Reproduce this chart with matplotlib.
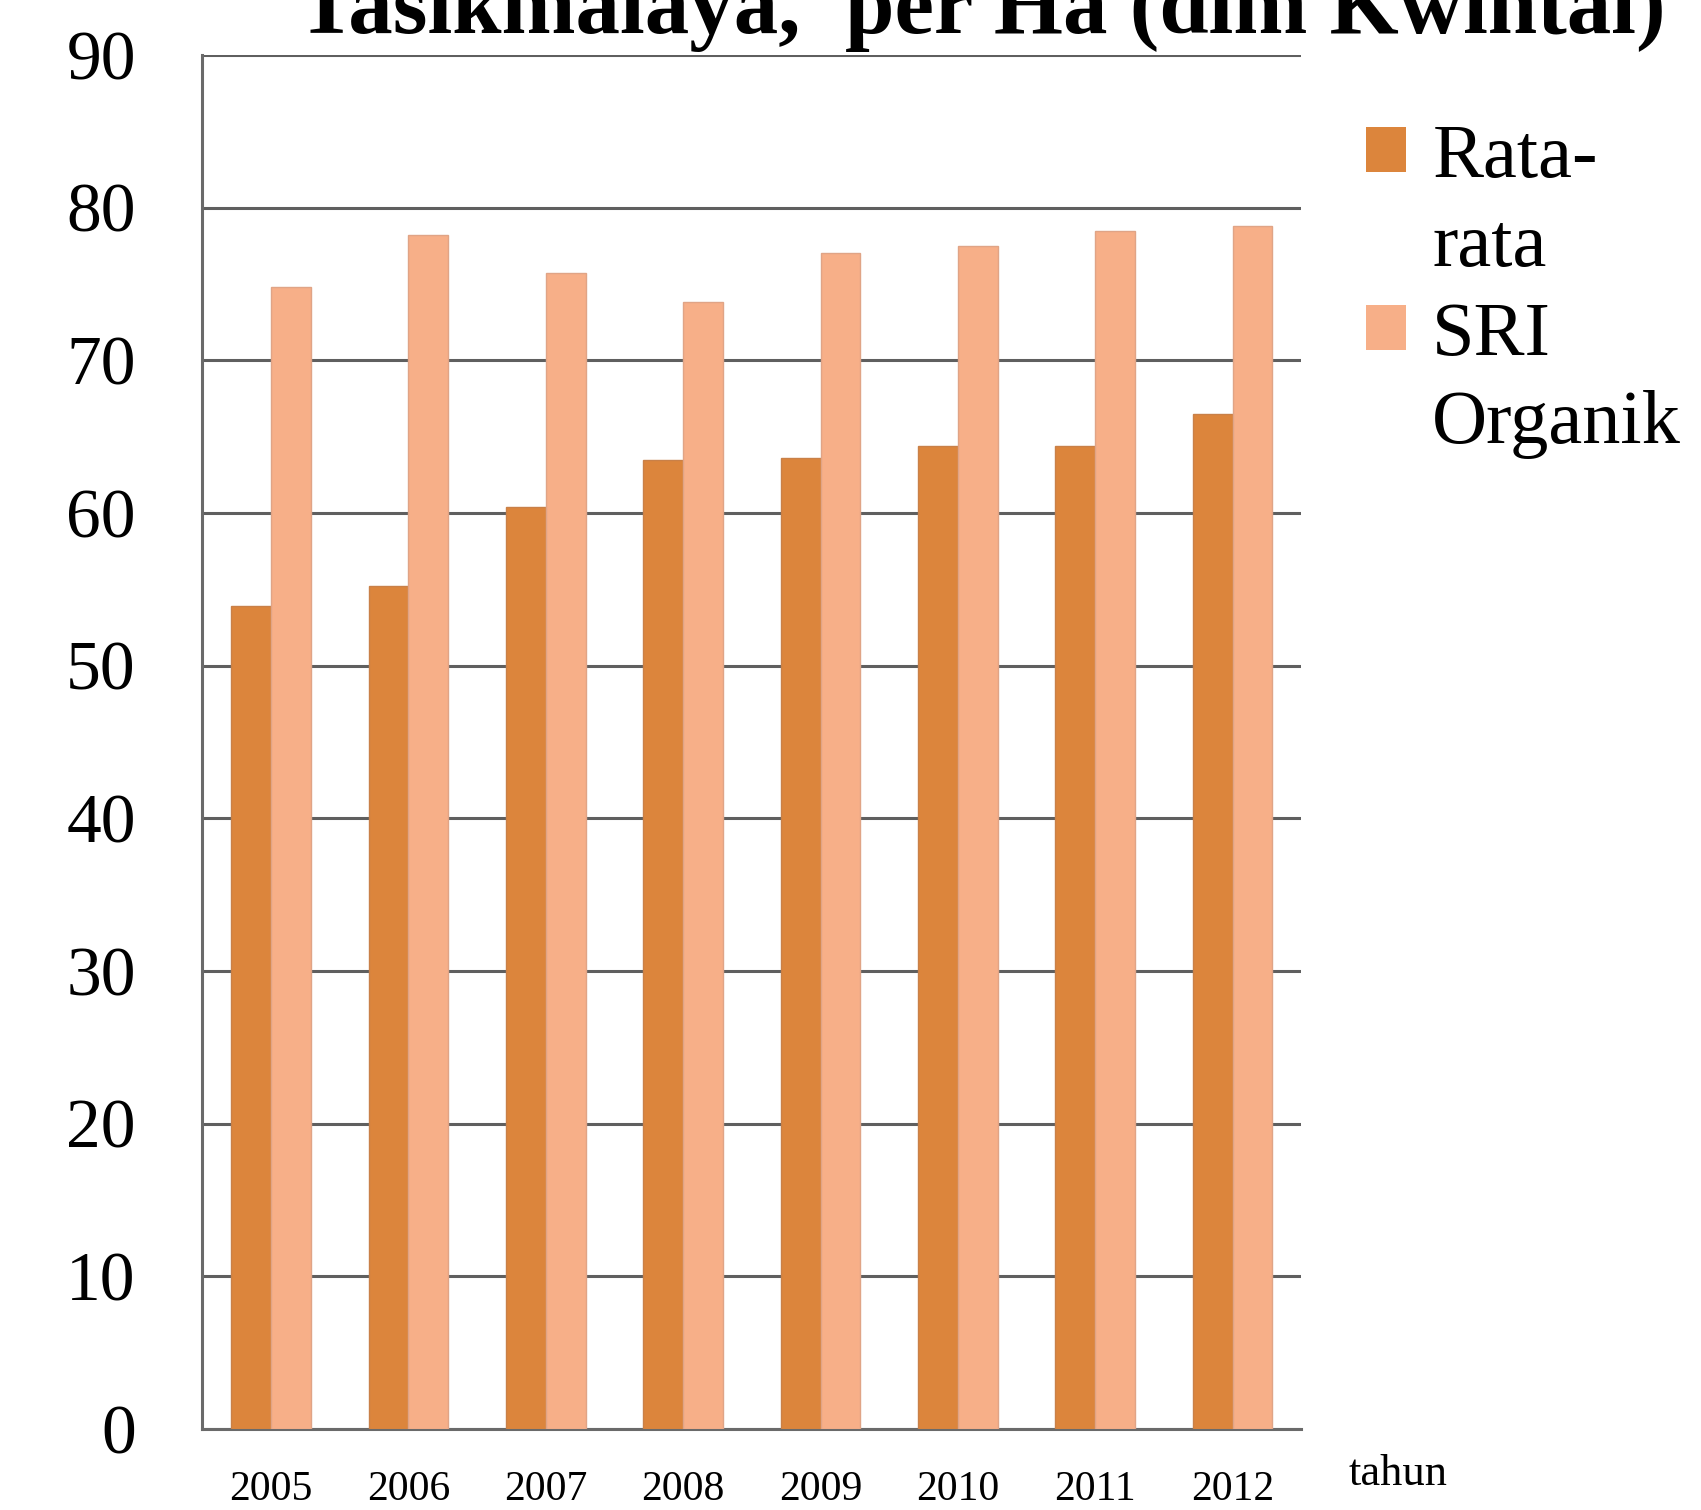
import numpy as np
import matplotlib
matplotlib.use("Agg")
import matplotlib.pyplot as plt
from matplotlib.patches import Patch

# data (kwintal per Ha)
years = ['2005', '2006', '2007', '2008', '2009', '2010', '2011', '2012']
rata_rata = [53.9, 55.2, 60.4, 63.5, 63.6, 64.4, 64.4, 66.5]
sri_organik = [74.8, 78.2, 75.7, 73.8, 77.0, 77.5, 78.5, 78.8]
yticks = [0, 10, 20, 30, 40, 50, 60, 70, 80, 90]

title = 'Tasikmalaya,  per Ha (dlm Kwintal)'
dark = '#DC853C'
light = '#F7AF88'
serif = ['Liberation Serif', 'DejaVu Serif']

plt.rcParams['font.family'] = serif

fig = plt.figure(figsize=(17.01, 15.10), dpi=100)
ax = fig.add_axes([0.119, 0.0536, 0.646, 0.91])

x = np.arange(len(years))
w = 0.29
ax.bar(x - w / 2, rata_rata, w, color=dark, edgecolor='#C98048', linewidth=1.0,
       zorder=3, label='Rata-rata')
ax.bar(x + w / 2, sri_organik, w, color=light, edgecolor='#E0A486', linewidth=1.0,
       zorder=3, label='SRI Organik')

ax.set_xlim(-0.5, len(years) - 0.5)
ax.set_ylim(0, 90)
ax.set_yticks(yticks)
ax.set_xticks(x)
ax.set_xticklabels(years)
ax.yaxis.grid(True, color='#5f5f5f', linewidth=2.2, zorder=0)
ax.set_axisbelow(True)
for s in ['top', 'right']:
    ax.spines[s].set_visible(False)
for s in ['left', 'bottom']:
    ax.spines[s].set_color('#6a6a6a')
    ax.spines[s].set_linewidth(2.2)
ax.tick_params(axis='y', length=0, pad=48, labelsize=50)
ax.tick_params(axis='x', length=0, pad=30, labelsize=30)

# legend: first line carries the swatch, second line is a continuation
blank = Patch(facecolor='none', edgecolor='none')
leg = fig.legend(
    [Patch(facecolor=dark), blank, Patch(facecolor=light), blank],
    ['Rata-', 'rata', 'SRI', 'Organik'],
    loc='upper left', bbox_to_anchor=(0.803, 0.918), frameon=False,
    fontsize=55, handlelength=0.52, handleheight=0.52, handletextpad=0.35,
    labelspacing=0.26, borderpad=0, borderaxespad=0)

fig.text(0.793, 0.024, 'tahun', fontsize=32, ha='left', va='center')
fig.text(0.577, 0.978, title, fontsize=64, fontweight='bold', ha='center',
         va='baseline')

fig.savefig('out.png', dpi=100)
